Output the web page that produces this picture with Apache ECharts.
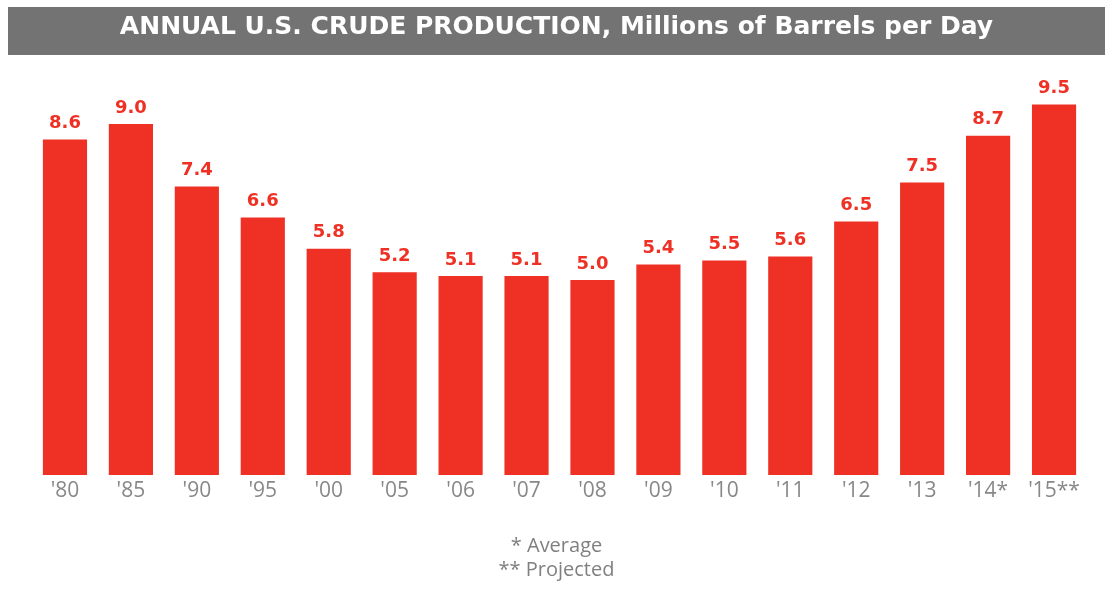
<!DOCTYPE html>
<html>
<head>
<meta charset="utf-8">
<script src="https://cdn.jsdelivr.net/npm/echarts@6/dist/echarts.min.js"></script>
<style>
  html, body { margin: 0; padding: 0; background: #fff; }
  #main { width: 1113px; height: 597px; }
</style>
</head>
<body>
<div id="main"></div>
<script>
// years on the x axis
var years = ["'80", "'85", "'90", "'95", "'00", "'05", "'06", "'07", "'08", "'09", "'10", "'11", "'12", "'13", "'14*", "'15**"];
// millions of barrels per day
var production = [8.6, 9.0, 7.4, 6.6, 5.8, 5.2, 5.1, 5.1, 5.0, 5.4, 5.5, 5.6, 6.5, 7.5, 8.7, 9.5];
var notes = ['* Average', '** Projected'];

var red = '#ee3124';
var chart = echarts.init(document.getElementById('main'));
chart.setOption({
    animation: false,
    graphic: [
        {
            type: 'rect',
            left: 8, top: 7,
            shape: { width: 1097, height: 48 },
            style: { fill: '#737373' }
        },
        {
            type: 'text',
            left: 'center', top: 15,
            style: {
                text: 'ANNUAL U.S. CRUDE PRODUCTION, Millions of Barrels per Day',
                fill: '#fff',
                font: 'bold 25px "DejaVu Sans"'
            }
        },
        {
            type: 'text',
            left: 'center', top: 536,
            style: { text: notes[0], fill: '#808080', font: '20px "Open Sans"' }
        },
        {
            type: 'text',
            left: 'center', top: 560,
            style: { text: notes[1], fill: '#808080', font: '20px "Open Sans"' }
        }
    ],
    grid: { left: 32, right: 26, top: 85, bottom: 122 },
    xAxis: {
        type: 'category',
        data: years,
        axisLine: { show: false },
        axisTick: { show: false },
        axisLabel: { interval: 0, color: '#888', fontSize: 21, fontFamily: 'Open Sans', margin: 6 }
    },
    yAxis: {
        type: 'value',
        min: 0, max: 10,
        show: false
    },
    series: [{
        type: 'bar',
        data: production,
        barCategoryGap: '33%',
        itemStyle: { color: red },
        label: {
            show: true,
            position: 'top',
            distance: 7,
            color: red,
            fontSize: 18,
            fontWeight: 'bold',
            fontFamily: 'DejaVu Sans',
            formatter: function (p) { return p.value.toFixed(1); }
        }
    }]
});
</script>
</body>
</html>
